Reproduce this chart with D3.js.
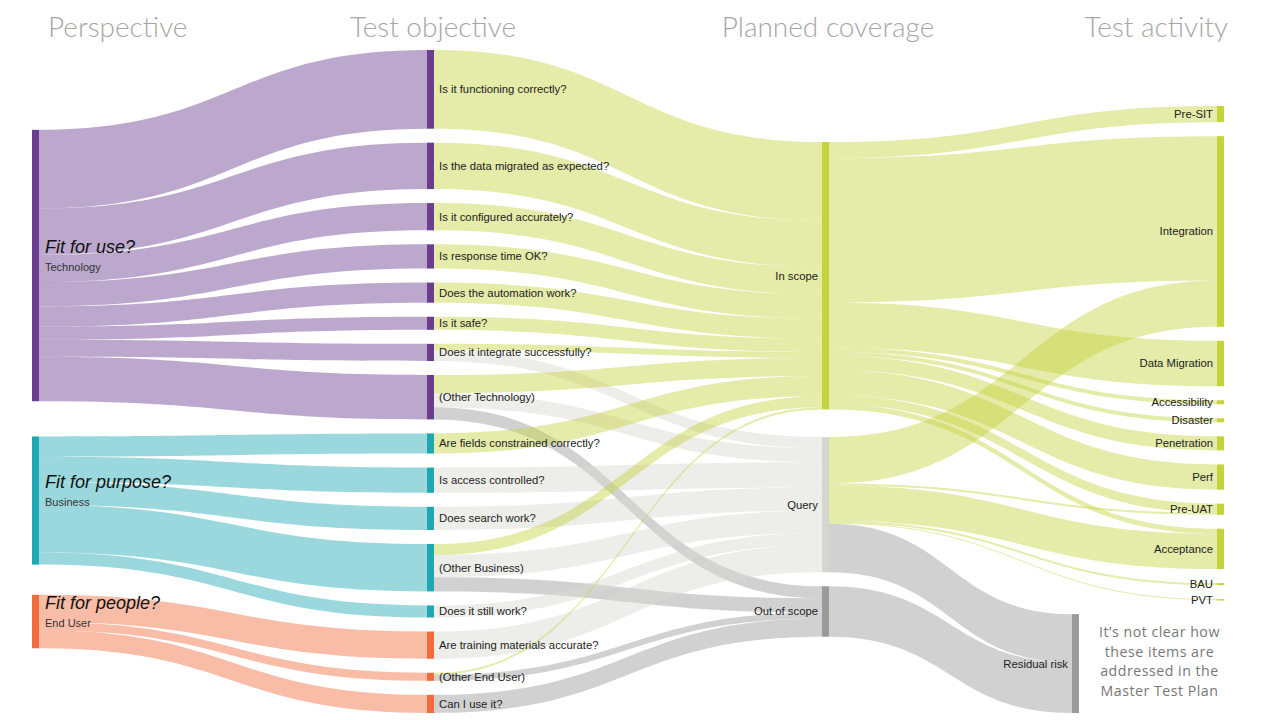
<!DOCTYPE html>
<html>
<head>
<meta charset="utf-8">
<script src="https://cdn.jsdelivr.net/npm/d3@7"></script>
<style>
  body { margin: 0; background: #fff; }
  svg { display: block; font-family: "Liberation Sans", Arial, sans-serif; }
</style>
</head>
<body>
<svg id="chart" width="1280" height="720"></svg>
<script>
// ---- data ----
const columnTitles = ['Perspective', 'Test objective', 'Planned coverage', 'Test activity'];

const perspectiveNames = ['Technology', 'Business', 'End User'];
const perspectiveQuestions = ['Fit for use?', 'Fit for purpose?', 'Fit for people?'];
const perspectiveColors = ['#6b3d8e', '#1fa8b4', '#f26b3c'];

// [perspective, test objective, value]
const objectiveLinks = [
  ['Technology', 'Is it functioning correctly?', 78],
  ['Technology', 'Is the data migrated as expected?', 46],
  ['Technology', 'Is it configured accurately?', 27],
  ['Technology', 'Is response time OK?', 24],
  ['Technology', 'Does the automation work?', 20],
  ['Technology', 'Is it safe?', 13],
  ['Technology', 'Does it integrate successfully?', 17],
  ['Technology', '(Other Technology)', 44],
  ['Business', 'Are fields constrained correctly?', 20],
  ['Business', 'Is access controlled?', 25],
  ['Business', 'Does search work?', 23],
  ['Business', '(Other Business)', 47],
  ['Business', 'Does it still work?', 12],
  ['End User', 'Are training materials accurate?', 27],
  ['End User', '(Other End User)', 8],
  ['End User', 'Can I use it?', 18]
];

const coverageNames = ['In scope', 'Query', 'Out of scope'];
const coverageColors = ['#c6d33d', '#d6d6ce', '#9a9a9a'];

// [test objective, planned coverage, value]
const coverageLinks = [
  ['Is it functioning correctly?', 'In scope', 78],
  ['Is the data migrated as expected?', 'In scope', 46],
  ['Is it configured accurately?', 'In scope', 27],
  ['Is response time OK?', 'In scope', 24],
  ['Does the automation work?', 'In scope', 20],
  ['Is it safe?', 'In scope', 13],
  ['Does it integrate successfully?', 'In scope', 6],
  ['Does it integrate successfully?', 'Query', 11],
  ['(Other Technology)', 'In scope', 18],
  ['(Other Technology)', 'Query', 14],
  ['(Other Technology)', 'Out of scope', 12],
  ['Are fields constrained correctly?', 'In scope', 20],
  ['Is access controlled?', 'Query', 25],
  ['Does search work?', 'Query', 23],
  ['(Other Business)', 'In scope', 11],
  ['(Other Business)', 'Query', 22],
  ['(Other Business)', 'Out of scope', 14],
  ['Does it still work?', 'Query', 12],
  ['Are training materials accurate?', 'Query', 27],
  ['(Other End User)', 'In scope', 2],
  ['(Other End User)', 'Out of scope', 6],
  ['Can I use it?', 'Out of scope', 18]
];

const activityNames = ['Pre-SIT', 'Integration', 'Data Migration', 'Accessibility', 'Disaster',
  'Penetration', 'Perf', 'Pre-UAT', 'Acceptance', 'BAU', 'PVT', 'Residual risk'];
const activityColor = '#c6d33d';
const residualColor = '#9a9a9a';

// [planned coverage, test activity, value]
const activityLinks = [
  ['In scope', 'Pre-SIT', 16],
  ['In scope', 'Integration', 143],
  ['In scope', 'Data Migration', 45],
  ['In scope', 'Accessibility', 4],
  ['In scope', 'Disaster', 4],
  ['In scope', 'Penetration', 14],
  ['In scope', 'Perf', 25],
  ['In scope', 'Pre-UAT', 9],
  ['In scope', 'Acceptance', 5],
  ['Query', 'Integration', 46],
  ['Query', 'Pre-UAT', 2],
  ['Query', 'Acceptance', 35],
  ['Query', 'BAU', 2],
  ['Query', 'PVT', 1],
  ['Query', 'Residual risk', 48],
  ['Out of scope', 'Residual risk', 50]
];

const annotationLines = ['It\u2019s not clear how', 'these items are', 'addressed in the', 'Master Test Plan'];

// ---- layout settings ----
const width = 1280;
const extentX0 = 32, extentX1 = 1224, extentY0 = 50, extentY1 = 713;
const nodeWidth = 7;
const nodePadding = 14;
const iterations = 10;
const alphaDecay = 0.9;
const annotationSpace = 145; // room kept right of the residual node for the note
const linkOpacity = 0.45;

// ---- build graph ----
const nodes = [];
const nodeByName = new Map();
function addNode(name, color) {
  if (!nodeByName.has(name)) {
    const n = { name, color, index: nodes.length, sourceLinks: [], targetLinks: [] };
    nodes.push(n);
    nodeByName.set(name, n);
  }
  return nodeByName.get(name);
}
perspectiveNames.forEach((p, i) => {
  const n = addNode(p, perspectiveColors[i]);
  n.question = perspectiveQuestions[i];
});
objectiveLinks.forEach(([p, o]) => addNode(o, nodeByName.get(p).color));
coverageNames.forEach((c, i) => addNode(c, coverageColors[i]));
activityNames.forEach(a => addNode(a, a === 'Residual risk' ? residualColor : activityColor));

const links = [...objectiveLinks, ...coverageLinks, ...activityLinks].map(([s, t, v], i) => {
  const l = { source: nodeByName.get(s), target: nodeByName.get(t), value: v, index: i };
  l.source.sourceLinks.push(l);
  l.target.targetLinks.push(l);
  return l;
});

nodes.forEach(n => {
  n.value = Math.max(d3.sum(n.sourceLinks, l => l.value), d3.sum(n.targetLinks, l => l.value));
  n.layer = 0;
});
// longest path from the sources
for (let k = 0; k < nodes.length; k++) {
  links.forEach(l => { l.target.layer = Math.max(l.target.layer, l.source.layer + 1); });
}
const maxLayer = d3.max(nodes, n => n.layer);
const x = d3.scaleLinear().domain([0, maxLayer]).range([extentX0, extentX1 - nodeWidth]);
nodes.forEach(n => {
  n.x0 = x(n.layer);
  if (n.layer === maxLayer && n.name === 'Residual risk') n.x0 -= annotationSpace;
  n.x1 = n.x0 + nodeWidth;
});

const columns = d3.groups(nodes, n => n.layer).sort((a, b) => a[0] - b[0]).map(d => d[1]);

// ---- vertical placement: classic centre-weighted relaxation, input order kept ----
const ky = d3.min(columns, c => (extentY1 - extentY0 - (c.length - 1) * nodePadding) / d3.sum(c, n => n.value));
links.forEach(l => { l.width = l.value * ky; });

const center = n => (n.y0 + n.y1) / 2;
const shift = (n, dy) => { n.y0 += dy; n.y1 += dy; };

columns.forEach(col => {
  let y = extentY0;
  col.forEach(n => { n.y0 = y; n.y1 = y + n.value * ky; y = n.y1 + nodePadding; });
});

function resolveCollisions() {
  columns.forEach(col => {
    let y = extentY0, n;
    for (let i = 0; i < col.length; i++) {
      n = col[i];
      const dy = y - n.y0;
      if (dy > 0) shift(n, dy);
      y = n.y1 + nodePadding;
    }
    let dy = y - nodePadding - extentY1;
    if (dy > 0) {
      shift(n, -dy);
      y = n.y0;
      for (let i = col.length - 2; i >= 0; i--) {
        n = col[i];
        dy = n.y1 + nodePadding - y;
        if (dy > 0) shift(n, -dy);
        y = n.y0;
      }
    }
  });
}
function relaxLeftToRight(alpha) {
  columns.forEach(col => col.forEach(n => {
    if (!n.targetLinks.length) return;
    const y = d3.sum(n.targetLinks, l => center(l.source) * l.value) / d3.sum(n.targetLinks, l => l.value);
    shift(n, (y - center(n)) * alpha);
  }));
}
function relaxRightToLeft(alpha) {
  columns.slice().reverse().forEach(col => col.forEach(n => {
    if (!n.sourceLinks.length) return;
    const y = d3.sum(n.sourceLinks, l => center(l.target) * l.value) / d3.sum(n.sourceLinks, l => l.value);
    shift(n, (y - center(n)) * alpha);
  }));
}

resolveCollisions();
let alpha = 1;
for (let i = 0; i < iterations; i++) {
  alpha *= alphaDecay;
  relaxRightToLeft(alpha);
  resolveCollisions();
  relaxLeftToRight(alpha);
  resolveCollisions();
}

nodes.forEach(n => {
  n.sourceLinks.sort((a, b) => a.target.y0 - b.target.y0 || a.index - b.index);
  n.targetLinks.sort((a, b) => a.source.y0 - b.source.y0 || a.index - b.index);
  let ys = n.y0, yt = n.y0;
  n.sourceLinks.forEach(l => { l.y0 = ys + l.width / 2; ys += l.width; });
  n.targetLinks.forEach(l => { l.y1 = yt + l.width / 2; yt += l.width; });
});

// ---- draw ----
const svg = d3.select('#chart');

function ribbon(l) {
  const xa = l.source.x1, xb = l.target.x0, xm = (xa + xb) / 2;
  const h = l.width / 2;
  const p = d3.path();
  p.moveTo(xa, l.y0 - h);
  p.bezierCurveTo(xm, l.y0 - h, xm, l.y1 - h, xb, l.y1 - h);
  p.lineTo(xb, l.y1 + h);
  p.bezierCurveTo(xm, l.y1 + h, xm, l.y0 + h, xa, l.y0 + h);
  p.closePath();
  return p.toString();
}

svg.append('g')
  .selectAll('path')
  .data(links)
  .join('path')
  .attr('d', ribbon)
  .attr('fill', d => d.target.color)
  .attr('fill-opacity', linkOpacity);

svg.append('g')
  .selectAll('rect')
  .data(nodes)
  .join('rect')
  .attr('x', d => d.x0)
  .attr('y', d => d.y0)
  .attr('width', d => d.x1 - d.x0)
  .attr('height', d => Math.max(1.5, d.y1 - d.y0))
  .attr('fill', d => d.color);

// labels
const labels = svg.append('g').attr('fill', '#222');
nodes.forEach(n => {
  const cy = (n.y0 + n.y1) / 2;
  if (n.layer === 0) {
    labels.append('text')
      .attr('x', n.x1 + 6)
      .attr('y', cy - 13)
      .attr('font-size', 18)
      .attr('font-style', 'italic')
      .attr('fill', '#111')
      .text(n.question);
    labels.append('text')
      .attr('x', n.x1 + 6)
      .attr('y', cy + 5)
      .attr('font-size', 11)
      .attr('fill', '#333')
      .text(n.name);
  } else if (n.layer === 1) {
    labels.append('text')
      .attr('x', n.x1 + 5)
      .attr('y', cy)
      .attr('dy', '0.35em')
      .attr('font-size', 11.3)
      .text(n.name);
  } else {
    labels.append('text')
      .attr('x', n.x0 - 4)
      .attr('y', cy)
      .attr('dy', '0.35em')
      .attr('text-anchor', 'end')
      .attr('font-size', 11.3)
      .text(n.name);
  }
});

// column titles
const titleG = svg.append('g')
  .attr('font-family', 'Lato, "Open Sans", sans-serif')
  .attr('font-weight', 300)
  .attr('font-size', 28)
  .attr('fill', '#a6a6a6');
columnTitles.forEach((t, i) => {
  const last = i === columnTitles.length - 1;
  const nx = x(i);
  titleG.append('text')
    .attr('x', i === 0 ? nx + 16 : last ? nx + nodeWidth + 4 : nx + 6)
    .attr('y', 37)
    .attr('text-anchor', i === 0 ? 'start' : last ? 'end' : 'middle')
    .text(t);
});

// note next to the residual node
const residual = nodeByName.get('Residual risk');
const noteX = (residual.x1 + width - 40) / 2;
const noteCy = (residual.y0 + residual.y1) / 2 - 2;
const lineH = 19.4;
svg.append('g')
  .attr('font-family', '"Open Sans", sans-serif')
  .attr('font-size', 14.2)
  .attr('letter-spacing', 0.5)
  .attr('fill', '#777')
  .attr('text-anchor', 'middle')
  .selectAll('text')
  .data(annotationLines)
  .join('text')
  .attr('x', noteX)
  .attr('y', (d, i) => noteCy + (i - (annotationLines.length - 1) / 2) * lineH)
  .attr('dy', '0.35em')
  .text(d => d);
</script>
</body>
</html>
